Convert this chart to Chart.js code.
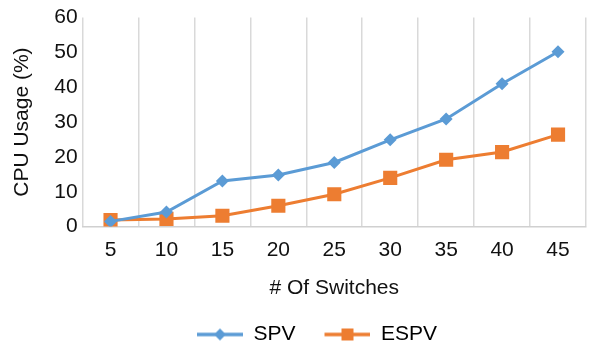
<!DOCTYPE html>
<html>
<head>
<meta charset="utf-8">
<script src="https://cdn.jsdelivr.net/npm/chart.js@4/dist/chart.umd.min.js"></script>
<style>
  html, body { margin: 0; padding: 0; background: #fff; }
  #wrap { width: 596px; height: 347px; }
</style>
</head>
<body>
<div id="wrap"><canvas id="cpuChart" width="596" height="347"></canvas></div>
<script>
const switches = ['5', '10', '15', '20', '25', '30', '35', '40', '45'];
const spvUsage = [1.5, 4.2, 13.1, 14.8, 18.4, 24.9, 30.9, 41.0, 50.2];
const espvUsage = [1.9, 2.2, 3.1, 6.0, 9.3, 14.0, 19.2, 21.4, 26.4];
const yTicks = [0, 10, 20, 30, 40, 50, 60];

const BLUE = '#5B9BD5';
const ORANGE = '#ED7D31';
const FONT = "'Liberation Sans', Arial, Helvetica, sans-serif";

// legend swatch: line with the series marker in the middle,
// transparent margin on the left spaces the two entries apart
const SWATCH_MARGIN = 19;
const SWATCH_LINE = 46;
function legendSwatch(color, marker) {
  const c = document.createElement('canvas');
  c.width = SWATCH_MARGIN + SWATCH_LINE;
  c.height = 16;
  const g = c.getContext('2d');
  const x0 = SWATCH_MARGIN;
  const mid = x0 + SWATCH_LINE / 2;
  g.strokeStyle = color;
  g.lineWidth = 3.5;
  g.beginPath();
  g.moveTo(x0, 8);
  g.lineTo(x0 + SWATCH_LINE, 8);
  g.stroke();
  g.fillStyle = color;
  if (marker === 'diamond') {
    g.beginPath();
    g.moveTo(mid, 2);
    g.lineTo(mid + 6, 8);
    g.lineTo(mid, 14);
    g.lineTo(mid - 6, 8);
    g.closePath();
    g.fill();
  } else {
    g.fillRect(mid - 6, 2, 12, 12);
  }
  return c;
}

// nudge the legend row a little to the right
const legendShift = {
  id: 'legendShift',
  afterLayout(chart) {
    chart.legend.left += 5;
    chart.legend.right += 5;
  }
};

const ctx = document.getElementById('cpuChart').getContext('2d');
new Chart(ctx, {
  type: 'line',
  data: {
    labels: switches,
    datasets: [{
      label: 'SPV',
      data: spvUsage,
      borderColor: BLUE,
      backgroundColor: BLUE,
      borderWidth: 3,
      pointStyle: 'rectRot',
      pointRadius: 6.5,
      pointBorderWidth: 0,
      tension: 0
    }, {
      label: 'ESPV',
      data: espvUsage,
      borderColor: ORANGE,
      backgroundColor: ORANGE,
      borderWidth: 3,
      pointStyle: 'rect',
      pointRadius: 10,
      pointBorderWidth: 0,
      tension: 0
    }]
  },
  plugins: [legendShift],
  options: {
    responsive: false,
    animation: false,
    layout: {
      padding: { left: 10, right: 1, top: 15, bottom: -8 }
    },
    scales: {
      x: {
        offset: true,
        grid: {
          offset: true,
          color: '#d9d9d9',
          lineWidth: 1.5,
          drawTicks: false
        },
        border: { color: '#d0d0d0', width: 1.5 },
        ticks: {
          color: '#111',
          padding: 11,
          font: { family: FONT, size: 21 }
        },
        title: {
          display: true,
          text: '# Of Switches',
          color: '#111',
          padding: { top: 2, bottom: 13 },
          font: { family: FONT, size: 21 }
        }
      },
      y: {
        min: 0,
        max: 60,
        afterBuildTicks: (scale) => {
          scale.ticks = yTicks.map(v => ({ value: v }));
        },
        grid: { display: false, drawTicks: false },
        border: { display: false },
        ticks: {
          color: '#111',
          padding: 5,
          font: { family: FONT, size: 21 }
        },
        title: {
          display: true,
          text: 'CPU Usage (%)',
          color: '#111',
          padding: { top: 0, bottom: 14 },
          font: { family: FONT, size: 21 }
        }
      }
    },
    plugins: {
      legend: {
        position: 'bottom',
        labels: {
          usePointStyle: true,
          pointStyleWidth: SWATCH_MARGIN + SWATCH_LINE,
          padding: 10,
          color: '#111',
          font: { family: FONT, size: 21 },
          generateLabels: (chart) => chart.data.datasets.map((ds, i) => ({
            text: ds.label,
            fillStyle: ds.borderColor,
            strokeStyle: ds.borderColor,
            lineWidth: 0,
            pointStyle: legendSwatch(ds.borderColor, i === 0 ? 'diamond' : 'square'),
            datasetIndex: i,
            hidden: false
          }))
        }
      },
      tooltip: { enabled: false }
    }
  }
});
</script>
</body>
</html>
